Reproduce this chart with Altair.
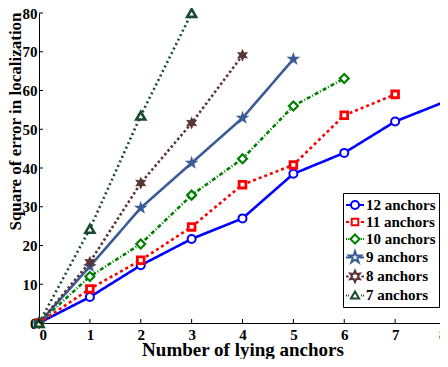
import altair as alt
import pandas as pd

# ---- data ----
series_names = ["12 anchors", "11 anchors", "10 anchors", "9 anchors", "8 anchors", "7 anchors"]
x_values = [0, 1, 2, 3, 4, 5, 6, 7, 8]
s12 = [0, 6.7, 14.9, 21.7, 27.0, 38.5, 43.9, 52.0, 57.2]
s11 = [0, 8.8, 16.2, 24.8, 35.7, 40.8, 53.6, 59.0]
s10 = [0, 12.0, 20.4, 33.0, 42.4, 56.0, 63.1]
s9 = [0, 14.6, 29.7, 41.3, 52.9, 68.1]
s8 = [0, 15.7, 36.1, 51.6, 69.1]
s7 = [0, 24.3, 53.5, 80.0]
x_ticks = [0, 1, 2, 3, 4, 5, 6, 7, 8]
y_ticks = [0, 10, 20, 30, 40, 50, 60, 70, 80]

# ---- styles ----
colors = ["#0000FF", "#FF0000", "#008000", "#3B5B96", "#5B3535", "#1B4A32"]
dashes = [[1, 0], [3, 3], [4, 2, 1, 2], [1, 0], [2.5, 2.5], [2, 3]]
widths = [2.6, 2.6, 2.3, 2.3, 2.6, 2.6]

STAR = ("M0,-1L0.2245,-0.309L0.951,-0.309L0.363,0.118L0.588,0.809L0,0.382"
        "L-0.588,0.809L-0.363,0.118L-0.951,-0.309L-0.2245,-0.309Z")
HEX = ("M0,-1L0.25,-0.433L0.866,-0.5L0.5,0L0.866,0.5L0.25,0.433L0,1"
       "L-0.25,0.433L-0.866,0.5L-0.5,0L-0.866,-0.5L-0.25,-0.433Z")
marker_specs = [
    dict(shape="circle", size=64, filled=False, fill="white", strokeWidth=2),
    dict(shape="square", size=45, filled=False, fill="white", strokeWidth=2.8),
    dict(shape="diamond", size=80, filled=False, fill="white", strokeWidth=2.2),
    dict(shape=STAR, size=210, filled=True),
    dict(shape=HEX, size=170, filled=True),
    dict(shape="triangle-up", size=80, filled=False, fill="white", strokeWidth=2.6),
]

legend_paths = [
    "M-1.15,0H-0.51M0.51,0H1.15M0.51,0A0.51,0.51 0 1,1 -0.51,0A0.51,0.51 0 1,1 0.51,0Z",
    "M-1.15,0H-0.75M0.75,0H1.15M-0.42,-0.42H0.42V0.42H-0.42Z",
    "M-1.15,0H-1.02M-0.88,0H-0.76M0.76,0H0.88M1.02,0H1.15M0,-0.58L0.58,0L0,0.58L-0.58,0Z",
    "M-1.15,0H-0.55M0.55,0H1.15M0,-0.8L0.18,-0.247L0.761,-0.247L0.29,0.094L0.47,0.647"
    "L0,0.306L-0.47,0.647L-0.29,0.094L-0.761,-0.247L-0.18,-0.247Z",
    "M-1.15,0H-0.82M0.82,0H1.15M0,-0.72L0.18,-0.312L0.624,-0.36L0.36,0L0.624,0.36"
    "L0.18,0.312L0,0.72L-0.18,0.312L-0.624,0.36L-0.36,0L-0.624,-0.36L-0.18,-0.312Z",
    "M-1.15,0H-1.02M-0.88,0H-0.76M0.76,0H0.88M1.02,0H1.15M0,-0.5L0.52,0.4L-0.52,0.4Z",
]

all_series = [s12, s11, s10, s9, s8, s7]
rows = []
for name, vals in zip(series_names, all_series):
    for xv, yv in zip(x_values, vals):
        rows.append({"series": name, "x": xv, "y": yv})
df = pd.DataFrame(rows)

W, H = 407, 310
FONT = "Liberation Serif"

xs = alt.Scale(domain=[0, 8], nice=False)
ys = alt.Scale(domain=[0, 80], nice=False)
# reversed order for the un-legended channels so they are not merged with the legend
rev_names = series_names[::-1]
color_scale = alt.Scale(domain=rev_names, range=colors[::-1])
dash_scale = alt.Scale(domain=rev_names, range=dashes[::-1])
width_scale = alt.Scale(domain=rev_names, range=widths[::-1])

x_axis = alt.Axis(values=x_ticks, ticks=False, tickSize=0, grid=False, labelOverlap=False,
                  titleY=32, titleBaseline="alphabetic", labelPadding=4, titleFontSize=19)
y_axis = alt.Axis(values=y_ticks, ticks=False, tickSize=0, grid=False, labelOverlap=False,
                  titleAngle=270, titleX=-19, titleY=108, titleAlign="center",
                  titleBaseline="alphabetic", labelPadding=2, titleFontSize=17)
X = alt.X("x:Q", scale=xs, title="Number of lying anchors", axis=x_axis)
Y = alt.Y("y:Q", scale=ys, title="Square of error in localization", axis=y_axis)

base = alt.Chart(df)

lines = base.mark_line().encode(
    x=X, y=Y,
    color=alt.Color("series:N", scale=color_scale, legend=None),
    strokeDash=alt.StrokeDash("series:N", scale=dash_scale, legend=None),
    strokeWidth=alt.StrokeWidth("series:N", scale=width_scale, legend=None),
    detail="series:N",
)

marker_layers = []
for name, spec in zip(series_names, marker_specs):
    marker_layers.append(
        base.transform_filter(alt.datum.series == name)
        .mark_point(opacity=1, **spec)
        .encode(x=X, y=Y, color=alt.Color("series:N", scale=color_scale, legend=None))
    )

legend_props = dict(title=None, orient="none", legendX=304, legendY=180,
                    symbolSize=246, symbolStrokeWidth=2, symbolOpacity=1,
                    labelFont=FONT, labelFontSize=15, labelFontWeight="bold",
                    labelColor="black", labelOffset=2, rowPadding=-1.6,
                    padding=3, strokeColor="black", fillColor="white")

legend_layer = base.mark_point(opacity=0, filled=False, strokeWidth=2).encode(
    x=X, y=Y,
    stroke=alt.Stroke("series:N", scale=alt.Scale(domain=series_names, range=colors), sort=None,
                      legend=alt.Legend(**legend_props)),
    shape=alt.Shape("series:N", scale=alt.Scale(domain=series_names, range=legend_paths), sort=None,
                    legend=alt.Legend(**legend_props)),
)

# inward ticks (MATLAB style)
xt = alt.Chart(pd.DataFrame({"x": x_ticks})).mark_rule(color="black", strokeWidth=1).encode(
    x=X, y=alt.value(H), y2=alt.value(H - 4))
yt = alt.Chart(pd.DataFrame({"y": y_ticks})).mark_rule(color="black", strokeWidth=1).encode(
    y=Y, x=alt.value(0), x2=alt.value(4))

chart = alt.layer(lines, *marker_layers, legend_layer, xt, yt).properties(
    width=W, height=H,
    autosize=alt.AutoSizeParams(type="none"),
    padding={"left": 31, "right": -6, "top": 5, "bottom": 36},
).configure_view(stroke=None).configure_axis(
    labelFont=FONT, labelFontSize=15, labelFontWeight="bold", labelColor="black",
    titleFont=FONT, titleFontWeight="bold", titleColor="black",
    domainColor="black", domainWidth=1,
)

chart.save("out.html", embed_options={"renderer": "svg", "actions": False})
